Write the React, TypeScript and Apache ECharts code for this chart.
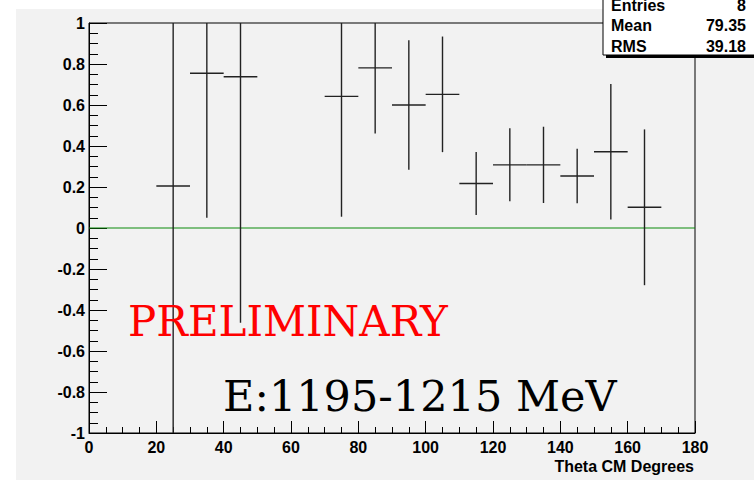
import React, { useEffect, useRef } from "react";
import * as echarts from "echarts";

// Asymmetry vs. centre-of-mass angle, one point per 10-degree bin
const thetaBins = [25, 35, 45, 75, 85, 95, 105, 115, 125, 135, 145, 155, 165];
const asymmetry = [0.205, 0.755, 0.738, 0.642, 0.781, 0.6, 0.652, 0.217, 0.308, 0.308, 0.254, 0.372, 0.101];
const asymErrors = [1.5, 0.705, 1.2, 0.587, 0.32, 0.316, 0.282, 0.154, 0.178, 0.186, 0.133, 0.33, 0.38];
const binHalfWidth = 5;

const xTicks = [0, 20, 40, 60, 80, 100, 120, 140, 160, 180];
const yTicks = [-1, -0.8, -0.6, -0.4, -0.2, 0, 0.2, 0.4, 0.6, 0.8, 1];

const statsLabels = ["Entries", "Mean", "RMS"];
const statsValues = ["8", "79.35", "39.18"];

const xTitle = "Theta CM Degrees";
const stampText = "PRELIMINARY";
const energyText = "E:1195-1215 MeV";

const AXIS_FONT = "'Liberation Sans', Arial, Helvetica, sans-serif";
const SERIF_FONT = "'DejaVu Serif', 'Liberation Serif', serif";

export default function App() {
  const ref = useRef<HTMLDivElement>(null);

  useEffect(() => {
    if (!ref.current) return;
    const chart = echarts.init(ref.current, undefined, { renderer: "svg" });

    const [xMin, xMax] = [xTicks[0], xTicks[xTicks.length - 1]];
    const [yMin, yMax] = [yTicks[0], yTicks[yTicks.length - 1]];

    const points = thetaBins.map((t, i) => [t, asymmetry[i], asymErrors[i]]);

    // statistics box in the top-right corner, with its drop shadow
    const statsChildren: any[] = [
      { type: "rect", shape: { x: 606, y: -27, width: 160, height: 85 }, style: { fill: "#000" } },
      { type: "rect", shape: { x: 603, y: -30, width: 160, height: 85 }, style: { fill: "#fff", stroke: "#000", lineWidth: 1 } },
    ];
    statsLabels.forEach((lab, i) => {
      const cy = 5 + i * 20.5;
      statsChildren.push({
        type: "text",
        style: { text: lab, x: 611, y: cy, fill: "#000", font: `bold 16px ${AXIS_FONT}`, textAlign: "left", textVerticalAlign: "middle" },
      });
      statsChildren.push({
        type: "text",
        style: { text: statsValues[i], x: 746, y: cy, fill: "#000", font: `bold 16px ${AXIS_FONT}`, textAlign: "right", textVerticalAlign: "middle" },
      });
    });

    chart.setOption({
      animation: false,
      backgroundColor: "#ffffff",
      grid: {
        left: 89,
        right: 59,
        top: 23,
        bottom: 47,
        show: true,
        backgroundColor: "transparent",
        borderColor: "#000",
        borderWidth: 1,
      },
      xAxis: {
        type: "value",
        min: xMin,
        max: xMax,
        interval: 20,
        axisLine: { show: true, onZero: false, lineStyle: { color: "#000", width: 1 } },
        axisTick: { show: true, inside: true, length: 12, lineStyle: { color: "#000" } },
        minorTick: { show: true, splitNumber: 4, length: 6, lineStyle: { color: "#000" } },
        splitLine: { show: false },
        axisLabel: {
          margin: 6,
          color: "#000",
          fontFamily: AXIS_FONT,
          fontWeight: "bold",
          fontSize: 16,
        },
      },
      yAxis: {
        type: "value",
        min: yMin,
        max: yMax,
        interval: 0.2,
        axisLine: { show: true, onZero: false, lineStyle: { color: "#000", width: 1 } },
        axisTick: { show: true, inside: true, length: 18, lineStyle: { color: "#000" } },
        minorTick: { show: true, splitNumber: 4, length: 9, lineStyle: { color: "#000" } },
        splitLine: { show: false },
        axisLabel: {
          margin: 4,
          color: "#000",
          fontFamily: AXIS_FONT,
          fontWeight: "bold",
          fontSize: 16,
          formatter: (v: number) => String(Math.round(v * 10) / 10),
        },
      },
      graphic: [
        { type: "rect", z: -10, shape: { x: 16, y: 9, width: 738, height: 471 }, style: { fill: "#f2f2f2" } },
        {
          type: "text",
          z: 10,
          style: { text: stampText, x: 128, y: 321, fill: "#ff0000", font: `42px ${SERIF_FONT}`, textAlign: "left", textVerticalAlign: "middle" },
        },
        {
          type: "text",
          z: 10,
          style: { text: energyText, x: 223, y: 396, fill: "#000", font: `43px ${SERIF_FONT}`, textAlign: "left", textVerticalAlign: "middle" },
        },
        {
          type: "text",
          z: 10,
          style: { text: xTitle, x: 694, y: 466, fill: "#000", font: `bold 16px ${AXIS_FONT}`, textAlign: "right", textVerticalAlign: "middle" },
        },
        { type: "group", z: 20, children: statsChildren },
      ],
      series: [
        {
          // zero reference line
          type: "line",
          data: [
            [xMin, 0],
            [xMax, 0],
          ],
          symbol: "none",
          lineStyle: { color: "#0b8a0b", width: 1.2 },
          z: 1,
        },
        {
          type: "custom",
          z: 3,
          data: points,
          encode: { x: 0, y: 1 },
          renderItem: (_params: any, api: any) => {
            const x = api.value(0);
            const y = api.value(1);
            const e = api.value(2);
            const lo = Math.max(yMin, y - e);
            const hi = Math.min(yMax, y + e);
            const pL = api.coord([x - binHalfWidth, y]);
            const pR = api.coord([x + binHalfWidth, y]);
            const pT = api.coord([x, hi]);
            const pB = api.coord([x, lo]);
            const style = { stroke: "#222", lineWidth: 1.4 };
            return {
              type: "group",
              children: [
                { type: "line", shape: { x1: pL[0], y1: pL[1], x2: pR[0], y2: pR[1] }, style },
                { type: "line", shape: { x1: pT[0], y1: pT[1], x2: pB[0], y2: pB[1] }, style },
              ],
            };
          },
        },
      ],
    });

    return () => chart.dispose();
  }, []);

  return (
    <div
      ref={ref}
      style={{ position: "fixed", left: 0, top: 0, width: 754, height: 480 }}
    />
  );
}
